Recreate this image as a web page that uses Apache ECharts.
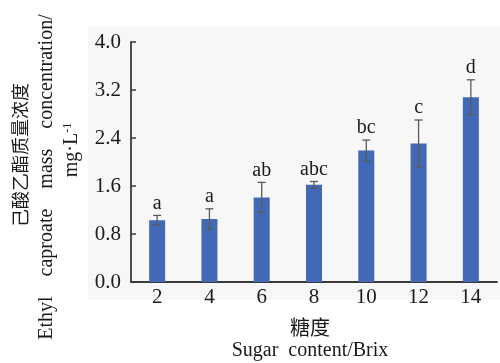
<!DOCTYPE html>
<html>
<head>
<meta charset="utf-8">
<script src="https://cdn.jsdelivr.net/npm/echarts@6/dist/echarts.min.js"></script>
<style>
  html, body { margin: 0; padding: 0; background: #ffffff; }
  #chart { width: 500px; height: 363px; }
</style>
</head>
<body>
<div id="chart"></div>
<script>
// Sugar content (Brix) levels
const categories = ['2', '4', '6', '8', '10', '12', '14'];
// Mean ethyl caproate mass concentration, mg/L
const values = [1.03, 1.05, 1.41, 1.62, 2.19, 2.31, 3.08];
// Standard deviation for each mean
const errors = [0.08, 0.17, 0.25, 0.055, 0.175, 0.39, 0.29];
// Significance letters
const letters = ['a', 'a', 'ab', 'abc', 'bc', 'c', 'd'];
// Y axis ticks
const yMin = 0, yMax = 4.0, yStep = 0.8;

const serif = '"Liberation Serif", "Times New Roman", serif';
const cjk = '"Noto Sans CJK SC", sans-serif';
const ink = '#1a1a1a';
const axisColor = '#3a3a3a';

const chart = echarts.init(document.getElementById('chart'), null, { renderer: 'canvas' });

const errData = values.map((v, i) => [i, v, errors[i]]);

chart.setOption({
  animation: false,
  backgroundColor: '#ffffff',
  grid: { left: 131, right: 3, top: 42, bottom: 81 },
  xAxis: {
    type: 'category',
    data: categories,
    axisLine: { lineStyle: { color: axisColor, width: 1.8 } },
    axisTick: { inside: true, length: 5, lineStyle: { color: axisColor, width: 1.5 } },
    axisLabel: { fontFamily: serif, fontSize: 21, color: ink, margin: 5 }
  },
  yAxis: {
    type: 'value',
    min: yMin, max: yMax, interval: yStep,
    axisLine: { show: true, lineStyle: { color: axisColor, width: 1.8 } },
    axisTick: { show: true, inside: true, length: 5, lineStyle: { color: axisColor, width: 1.5 } },
    splitLine: { show: false },
    axisLabel: {
      fontFamily: serif, fontSize: 21, color: ink, margin: 10,
      formatter: v => v.toFixed(1)
    }
  },
  graphic: [
    {
      type: 'rect', z: -10, silent: true,
      shape: { x: 88, y: 27, width: 412, height: 273 },
      style: { fill: '#f7f7f7' }
    },
    {
      type: 'text', x: 20, y: 155, rotation: Math.PI / 2,
      style: { text: '己酸乙酯质量浓度', font: '18px ' + cjk, fill: ink, align: 'center', verticalAlign: 'middle' }
    },
    {
      type: 'text', x: 47, y: 177, rotation: Math.PI / 2,
      style: { text: 'Ethyl    caproate    mass    concentration/', font: '20px ' + serif, fill: ink, align: 'center', verticalAlign: 'middle' }
    },
    {
      type: 'text', x: 72, y: 150, rotation: Math.PI / 2,
      style: {
        text: 'mg·L{s|-1}', font: '20px ' + serif, fill: ink, align: 'center', verticalAlign: 'middle',
        rich: { s: { fontFamily: serif, fontSize: 12, fill: ink, verticalAlign: 'top', padding: [0, 0, 8, 0] } }
      }
    },
    {
      type: 'text', x: 310, y: 327,
      style: { text: '糖度', font: '20px ' + cjk, fill: ink, align: 'center', verticalAlign: 'middle' }
    },
    {
      type: 'text', x: 310, y: 351,
      style: { text: 'Sugar  content/Brix', font: '20px ' + serif, fill: ink, align: 'center', verticalAlign: 'middle' }
    }
  ],
  series: [
    {
      type: 'bar',
      data: values,
      barWidth: 16,
      itemStyle: { color: '#4169b6' },
      z: 2
    },
    {
      type: 'custom',
      data: errData,
      z: 3,
      renderItem: function (params, api) {
        const i = api.value(0);
        const v = api.value(1);
        const e = api.value(2);
        const lab = letters[params.dataIndex];
        const top = api.coord([i, v + e]);
        const bot = api.coord([i, v - e]);
        const x = top[0];
        const half = 4;
        const ls = { stroke: '#5a5a5a', lineWidth: 1.3 };
        return {
          type: 'group',
          children: [
            { type: 'line', shape: { x1: x, y1: top[1], x2: x, y2: bot[1] }, style: ls },
            { type: 'line', shape: { x1: x - half, y1: top[1], x2: x + half, y2: top[1] }, style: ls },
            { type: 'line', shape: { x1: x - half, y1: bot[1], x2: x + half, y2: bot[1] }, style: ls },
            {
              type: 'text', x: x, y: top[1] - 2,
              style: { text: lab, font: '20px ' + serif, fill: ink, align: 'center', verticalAlign: 'bottom' }
            }
          ]
        };
      }
    }
  ]
});
</script>
</body>
</html>
